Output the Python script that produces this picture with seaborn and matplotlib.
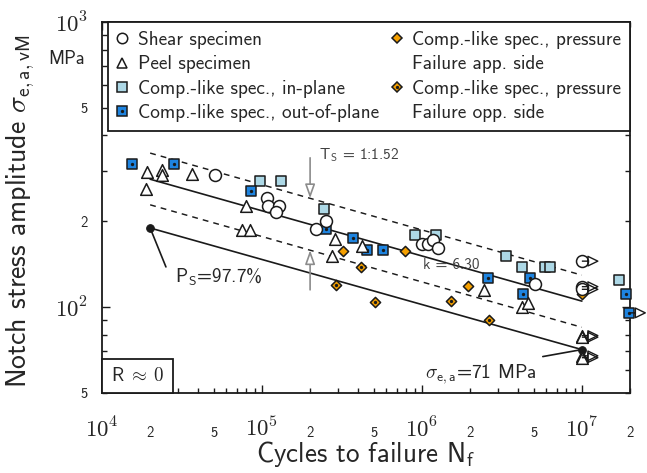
import numpy as np
import pandas as pd
import matplotlib
matplotlib.use("Agg")
import matplotlib.pyplot as plt
import seaborn as sns
from matplotlib.path import Path
from matplotlib.lines import Line2D
from matplotlib.patches import Rectangle
from matplotlib.legend_handler import HandlerTuple

# ---------------- data ----------------
shear_N = [5.11e4, 1.07e5, 1.085e5, 1.277e5, 1.218e5, 2.51e5, 2.175e5,
           9.96e5, 1.095e6, 1.177e6, 1.253e6, 5.09e6]
shear_S = [291, 241, 226, 226, 216, 201, 188, 167, 166, 172.5, 161, 120.5]
shear_run_N = [1e7, 1e7, 1e7]
shear_run_S = [145, 118, 115.5]

peel_N = [1.90e4, 1.875e4, 2.38e4, 2.38e4, 3.64e4, 8.0e4, 7.47e4, 8.41e4,
          2.86e5, 4.20e5, 2.73e5, 2.46e6, 4.24e6, 4.58e6]
peel_S = [297, 259.5, 302, 291, 293, 226, 187, 187, 173.5, 163.5, 151.5,
          115, 100, 103.5]
peel_run_N = [1e7, 1e7, 1e7, 1e7]
peel_run_S = [79.5, 78.5, 67.5, 66.5]

inplane_N = [9.71e4, 1.31e5, 2.45e5, 9.04e5, 1.232e6, 3.35e6, 4.24e6,
             5.87e6, 6.31e6, 1.70e7]
inplane_S = [276, 276, 221, 179.5, 179.5, 151.5, 138.5, 138, 138, 124.5]

outplane_N = [1.533e4, 2.82e4, 8.49e4, 2.51e5, 3.72e5, 4.51e5, 5.73e5,
              2.60e6, 4.71e6, 4.30e6, 1.88e7]
outplane_S = [318, 318, 254.5, 188, 175, 159, 159, 127, 127, 111, 111]
outplane_run_N = [1.98e7]
outplane_run_S = [95.5]

app_N = [3.195e5, 7.89e5, 1.953e6]
app_S = [158, 158, 119]
app_run_N = [1e7]
app_run_S = [111]

opp_N = [2.89e5, 4.14e5, 5.08e5, 1.518e6, 2.634e6]
opp_S = [119.5, 138.5, 104.5, 105, 90]

line_N = [2e4, 1e7]
mean_S = [281, 105]
upper_S = [347, 129.5]
lower_S = [228.5, 85]
ps977_S = [189.5, 71]

xmajor = [1e4, 1e5, 1e6, 1e7]
xmajor_labels = [r"$\mathsf{10^{4}}$", r"$\mathsf{10^{5}}$",
                 r"$\mathsf{10^{6}}$", r"$\mathsf{10^{7}}$"]
ymajor = [100, 1000]
ymajor_labels = [r"$\mathsf{10^{2}}$", r"$\mathsf{10^{3}}$"]

legend_labels = ["Shear specimen", "Peel specimen",
                 "Comp.-like spec., in-plane", "Comp.-like spec., out-of-plane",
                 "Comp.-like spec., pressure", "Failure app. side",
                 "Comp.-like spec., pressure", "Failure opp. side"]

# ---------------- style ----------------
sns.set_theme(style="ticks")
plt.rcParams["font.family"] = ["cmss10", "DejaVu Sans"]
plt.rcParams["mathtext.fontset"] = "cm"
plt.rcParams["axes.unicode_minus"] = False

C_LIGHT = "#add8e6"
C_BLUE = "#1e84e0"
C_ORANGE = "#f5a000"
EW = 1.1

fig = plt.figure(figsize=(6.47, 4.73), dpi=100)
ax = fig.add_axes([102 / 647, 1 - 393 / 473, 528 / 647, 371 / 473])
ax.set_xscale("log")
ax.set_yscale("log")

# ---------------- lines ----------------
ldf = pd.DataFrame({"N": line_N, "mean": mean_S, "upper": upper_S,
                    "lower": lower_S, "ps": ps977_S})
sns.lineplot(data=ldf, x="N", y="mean", ax=ax, color="k", lw=1.2,
             estimator=None, sort=False, zorder=2)
sns.lineplot(data=ldf, x="N", y="upper", ax=ax, color="k", lw=1.05,
             estimator=None, sort=False, zorder=2, linestyle=(0, (4, 3.5)))
sns.lineplot(data=ldf, x="N", y="lower", ax=ax, color="k", lw=1.05,
             estimator=None, sort=False, zorder=2, linestyle=(0, (4, 3.5)))
sns.lineplot(data=ldf, x="N", y="ps", ax=ax, color="k", lw=1.2,
             estimator=None, sort=False, zorder=2, marker="o",
             markersize=5.5, markeredgecolor="k", markerfacecolor="k")


def scat(N, S, marker, size, fc, z, dot=False):
    d = pd.DataFrame({"N": N, "S": S})
    sns.scatterplot(data=d, x="N", y="S", ax=ax, marker=marker, s=size ** 2,
                    color=fc, edgecolor="k", linewidth=EW, zorder=z,
                    clip_on=False, legend=False)
    if dot:
        sns.scatterplot(data=d, x="N", y="S", ax=ax, marker="o", s=2.4 ** 2,
                        color="k", edgecolor="k", linewidth=0, zorder=z + 0.01,
                        clip_on=False, legend=False)


# run-out arrow: short stem from the point plus an open head pointing right
arrow_path = Path([(0, 0), (0.38, 0), (0.38, 0.3), (1, 0), (0.38, -0.3), (0.38, 0.3)],
                  [Path.MOVETO, Path.LINETO, Path.MOVETO, Path.LINETO,
                   Path.LINETO, Path.CLOSEPOLY])


def runout(N, S, z):
    d = pd.DataFrame({"N": N, "S": S})
    sns.scatterplot(data=d, x="N", y="S", ax=ax, marker=arrow_path, s=23 ** 2,
                    facecolor="none", edgecolor="k", linewidth=1.0, zorder=z,
                    clip_on=False, legend=False)


SQ, DI, CI, TR = 7.2, 5.2, 8.6, 8.4
scat(inplane_N, inplane_S, "s", SQ, C_LIGHT, 3)
scat(outplane_N + outplane_run_N, outplane_S + outplane_run_S, "s", SQ, C_BLUE, 3.1, dot=True)
scat(app_N + app_run_N, app_S + app_run_S, "D", DI, C_ORANGE, 3.2)
scat(opp_N, opp_S, "D", DI, C_ORANGE, 3.3, dot=True)
scat(shear_N + shear_run_N, shear_S + shear_run_S, "o", CI, "white", 3.4)
scat(peel_N + peel_run_N, peel_S + peel_run_S, "^", TR, "white", 3.5)
runout(shear_run_N + peel_run_N + outplane_run_N,
       shear_run_S + peel_run_S + outplane_run_S, 3.6)

# ---------------- axes ----------------
ax.set_xlim(1e4, 2e7)
ax.set_ylim(50, 1000)

xminor = []
xminor_labels = []
for dec in [1e4, 1e5, 1e6, 1e7]:
    for m in range(2, 10):
        v = m * dec
        if v > 2e7 * 1.0001:
            break
        xminor.append(v)
        xminor_labels.append(str(m) if m in (2, 5) else "")
yminor = []
yminor_labels = []
for dec in [10, 100]:
    for m in range(2, 10):
        v = m * dec
        if v < 50:
            continue
        yminor.append(v)
        yminor_labels.append(str(m) if m in (2, 5) else "")

ax.set_xticks(xmajor, xmajor_labels)
ax.set_xticks(xminor, xminor_labels, minor=True)
ax.set_yticks(ymajor, ymajor_labels)
ax.set_yticks(yminor, yminor_labels, minor=True)

ax.tick_params(which="both", direction="in", top=True, right=True,
               color="k", width=1.0)
ax.tick_params(which="major", length=6, labelsize=16.5)
ax.tick_params(which="minor", length=3.8, labelsize=10.5)
ax.tick_params(axis="x", which="major", pad=17)
ax.tick_params(axis="x", which="minor", pad=24)
ax.tick_params(axis="y", which="both", pad=10)
for sp in ax.spines.values():
    sp.set_linewidth(1.3)
    sp.set_color("k")
ax.set_facecolor("white")
ax.grid(False)

ax.set_xlabel(r"Cycles to failure N$_\mathsf{f}$", fontsize=19.5)
ax.set_ylabel(r"Notch stress amplitude $\sigma_{\mathsf{e,a,vM}}$", fontsize=20)
ax.xaxis.set_label_coords(0.5, -0.125)
ax.xaxis.label.set_va("top")
ax.yaxis.set_label_coords(-0.123, 0.489)
fig.text(48 / 647, 1 - 59 / 473, "MPa", fontsize=13.3, va="center", ha="left")

# ---------------- annotations ----------------
def on_line(N, S_line):
    return 10 ** np.interp(np.log10(N), np.log10(line_N), np.log10(S_line))

ts_N = 2e5
ts_from = [334, 115]
grey = "0.55"
for tgt, src in ((upper_S, ts_from[0]), (lower_S, ts_from[1])):
    ax.annotate("", xy=(ts_N, on_line(ts_N, tgt)), xytext=(ts_N, src),
                arrowprops=dict(arrowstyle="-|>,head_length=0.7,head_width=0.25",
                                ec=grey, fc="white", lw=1.2, shrinkA=0,
                                shrinkB=0),
                zorder=4)
ax.text(2.27e5, 342, r"T$_\mathsf{S}$ = 1:1.52", fontsize=11, color="0.25",
        ha="left", va="center")
ax.text(1.01e6, 141, "k = 6.30", fontsize=11, color="0.25", ha="left",
        va="center")

ax.plot([line_N[0], 2.51e4], [ps977_S[0], 138.4], color="k", lw=1.2, zorder=2)
ax.text(2.86e4, 128, r"P$_\mathsf{S}$=97.7%", fontsize=13.8, ha="left",
        va="center")
ax.plot([5.7e6, line_N[1]], [67.1, ps977_S[1]], color="k", lw=1.2, zorder=2)
ax.text(1.045e6, 58.1, r"$\sigma_{\mathsf{e,a}}$=71 MPa", fontsize=14,
        ha="left", va="center")

ax.add_patch(Rectangle((0, 0), 71 / 528, 34 / 371, transform=ax.transAxes,
                       fc="white", ec="k", lw=1.3, zorder=5, clip_on=False))
ax.text(0.5 * 71 / 528, 0.5 * 34 / 371, r"$\mathsf{R}\;\approx\;\mathsf{0}$",
        fontsize=13.7, transform=ax.transAxes, ha="center", va="center",
        zorder=6)

# ---------------- legend ----------------
def mk(marker, ms, fc):
    return Line2D([], [], ls="none", marker=marker, markersize=ms,
                  markerfacecolor=fc, markeredgecolor="k", markeredgewidth=EW)

dot = Line2D([], [], ls="none", marker="o", markersize=2.4,
             markerfacecolor="k", markeredgecolor="k", markeredgewidth=0)
blank = Line2D([], [], ls="none")
handles = [mk("o", 7.5, "white"), mk("^", 7.5, "white"),
           mk("s", 6.6, C_LIGHT), (mk("s", 6.6, C_BLUE), dot),
           mk("D", 5.0, C_ORANGE), blank, (mk("D", 5.0, C_ORANGE), dot), blank]
leg = ax.legend(handles, legend_labels, ncol=2, loc="upper left",
                bbox_to_anchor=(6 / 528, 0, 1 - 6 / 528, 1), mode="expand",
                borderaxespad=0, fontsize=13.9, frameon=True, fancybox=False,
                framealpha=1, edgecolor="k", handlelength=0.56,
                handletextpad=0.5, borderpad=0.47, labelspacing=0.33,
                columnspacing=1.0,
                handler_map={tuple: HandlerTuple(ndivide=1)})
leg.get_frame().set_linewidth(1.3)
leg.set_zorder(7)

fig.savefig("out.png", dpi=100, facecolor="white")
